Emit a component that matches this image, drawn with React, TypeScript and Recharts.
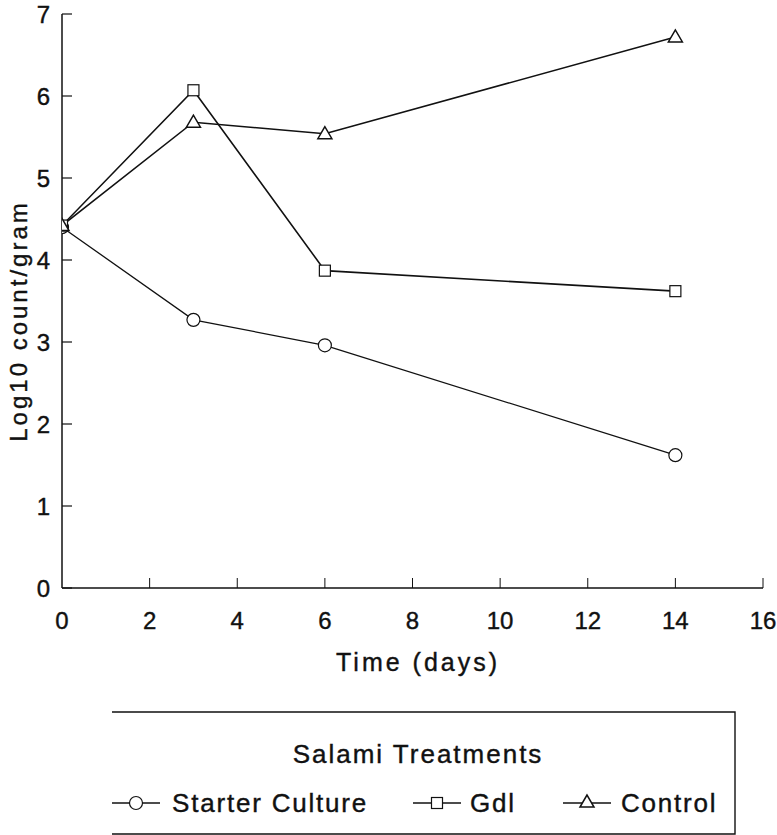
import React from 'react';
import {
    LineChart,
    Line,
    XAxis,
    YAxis,
    Legend,
} from 'recharts';

// Salami treatments, log10 count per gram over time
const days = [0, 3, 6, 14];
const starterCulture = [4.4, 3.27, 2.96, 1.62];
const gdl = [4.42, 6.07, 3.87, 3.62];
const control = [4.42, 5.68, 5.54, 6.72];

const xTicks = [0, 2, 4, 6, 8, 10, 12, 14, 16];
const yTicks = [0, 1, 2, 3, 4, 5, 6, 7];

const FONT = '"Liberation Sans", Arial, Helvetica, sans-serif';
const INK = '#111';

const chartData = days.map((d, i) => ({
    day: d,
    starter: starterCulture[i],
    gdl: gdl[i],
    control: control[i],
}));

/** Y tick: inward tick mark plus label to the left */
function YTick(props: any) {
    const { x, y, payload } = props;
    const axisX = x + 12;
    return (
        <g>
            <line x1={axisX} y1={y} x2={axisX + 10} y2={y} stroke={INK} strokeWidth={1.2} />
            <text
                x={x}
                y={y}
                textAnchor="end"
                dominantBaseline="central"
                fontFamily={FONT}
                fontSize={24}
                fill={INK}
                stroke={INK}
                strokeWidth={0.4}
            >
                {payload.value}
            </text>
        </g>
    );
}

/** X tick: upward tick mark plus label below */
function XTick(props: any) {
    const { x, y, payload } = props;
    const axisY = y - 2;
    return (
        <g>
            {payload.value !== 0 && (
                <line x1={x} y1={axisY} x2={x} y2={axisY - 10} stroke={INK} strokeWidth={1} />
            )}
            <text
                x={x}
                y={axisY + 41}
                textAnchor="middle"
                fontFamily={FONT}
                fontSize={24}
                fill={INK}
                stroke={INK}
                strokeWidth={0.4}
            >
                {payload.value}
            </text>
        </g>
    );
}

function CircleDot(props: any) {
    const { cx, cy } = props;
    if (cx == null || cy == null) return null;
    return <circle cx={cx} cy={cy} r={6.5} fill="#fff" stroke={INK} strokeWidth={1.2} />;
}

function SquareDot(props: any) {
    const { cx, cy } = props;
    if (cx == null || cy == null) return null;
    return <rect x={cx - 5.5} y={cy - 5.5} width={11} height={11} fill="#fff" stroke={INK} strokeWidth={1.2} />;
}

function TriangleDot(props: any) {
    const { cx, cy } = props;
    if (cx == null || cy == null) return null;
    const pts = `${cx},${cy - 7} ${cx - 7},${cy + 5} ${cx + 7},${cy + 5}`;
    return <polygon points={pts} fill="#fff" stroke={INK} strokeWidth={1.5} />;
}

const legendItems = [
    { name: 'Starter Culture', shape: 'circle', x: 112, textX: 172 },
    { name: 'Gdl', shape: 'square', x: 413, textX: 470 },
    { name: 'Control', shape: 'triangle', x: 563, textX: 621 },
];

/** Boxed legend with title, drawn as absolute-positioned svg */
function SalamiLegend() {
    return (
        <svg width={777} height={835} style={{ position: 'absolute', left: 0, top: 0, pointerEvents: 'none' }}>
            <polyline
                points="112,712 735,712 735,834 112,834"
                fill="none"
                stroke={INK}
                strokeWidth={1.4}
            />
            <text
                x={418}
                y={763}
                textAnchor="middle"
                fontFamily={FONT}
                fontSize={26}
                letterSpacing={2}
                fill={INK}
                stroke={INK}
                strokeWidth={0.4}
            >
                Salami Treatments
            </text>
            {legendItems.map((item) => {
                const cy = 803;
                const cx = item.x + 24;
                return (
                    <g key={item.name}>
                        <line x1={item.x} y1={cy} x2={item.x + 48} y2={cy} stroke={INK} strokeWidth={1.3} />
                        {item.shape === 'circle' && <CircleDot cx={cx} cy={cy} />}
                        {item.shape === 'square' && <SquareDot cx={cx} cy={cy} />}
                        {item.shape === 'triangle' && <TriangleDot cx={cx} cy={cy - 1} />}
                        <text
                            x={item.textX}
                            y={cy + 9}
                            fontFamily={FONT}
                            fontSize={26}
                            letterSpacing={1.8}
                            fill={INK}
                            stroke={INK}
                            strokeWidth={0.4}
                        >
                            {item.name}
                        </text>
                    </g>
                );
            })}
        </svg>
    );
}

export default function App() {
    return (
        <div style={{ position: 'absolute', left: 0, top: 0, width: 777, height: 835, background: '#fff' }}>
            <LineChart
                width={777}
                height={835}
                data={chartData}
                margin={{ top: 14, right: 14, left: 0, bottom: 197 }}
            >
                <XAxis
                    type="number"
                    dataKey="day"
                    domain={[0, 16]}
                    ticks={xTicks}
                    interval={0}
                    height={50}
                    tickSize={0}
                    tickMargin={2}
                    tickLine={false}
                    tick={<XTick />}
                    axisLine={{ stroke: INK, strokeWidth: 1.5 }}
                    allowDataOverflow
                />
                <YAxis
                    type="number"
                    domain={[0, 7]}
                    ticks={yTicks}
                    interval={0}
                    width={62}
                    tickSize={0}
                    tickMargin={12}
                    tickLine={false}
                    tick={<YTick />}
                    axisLine={{ stroke: INK, strokeWidth: 1.5 }}
                />
                <Legend content={() => null} />
                <Line
                    dataKey="starter"
                    stroke={INK}
                    strokeWidth={1.3}
                    dot={<CircleDot />}
                    isAnimationActive={false}
                />
                <Line
                    dataKey="gdl"
                    stroke={INK}
                    strokeWidth={1.6}
                    dot={<SquareDot />}
                    isAnimationActive={false}
                />
                <Line
                    dataKey="control"
                    stroke={INK}
                    strokeWidth={1.5}
                    dot={<TriangleDot />}
                    isAnimationActive={false}
                />
            </LineChart>
            <svg width={777} height={835} style={{ position: 'absolute', left: 0, top: 0, pointerEvents: 'none' }}>
                <text
                    transform="translate(27, 321) rotate(-90)"
                    textAnchor="middle"
                    fontFamily={FONT}
                    fontSize={24}
                    letterSpacing={3}
                    fill={INK}
                    stroke={INK}
                    strokeWidth={0.4}
                >
                    Log10 count/gram
                </text>
                <text
                    x={418}
                    y={671}
                    textAnchor="middle"
                    fontFamily={FONT}
                    fontSize={25}
                    letterSpacing={3}
                    fill={INK}
                    stroke={INK}
                    strokeWidth={0.4}
                >
                    Time (days)
                </text>
            </svg>
            <SalamiLegend />
        </div>
    );
}
